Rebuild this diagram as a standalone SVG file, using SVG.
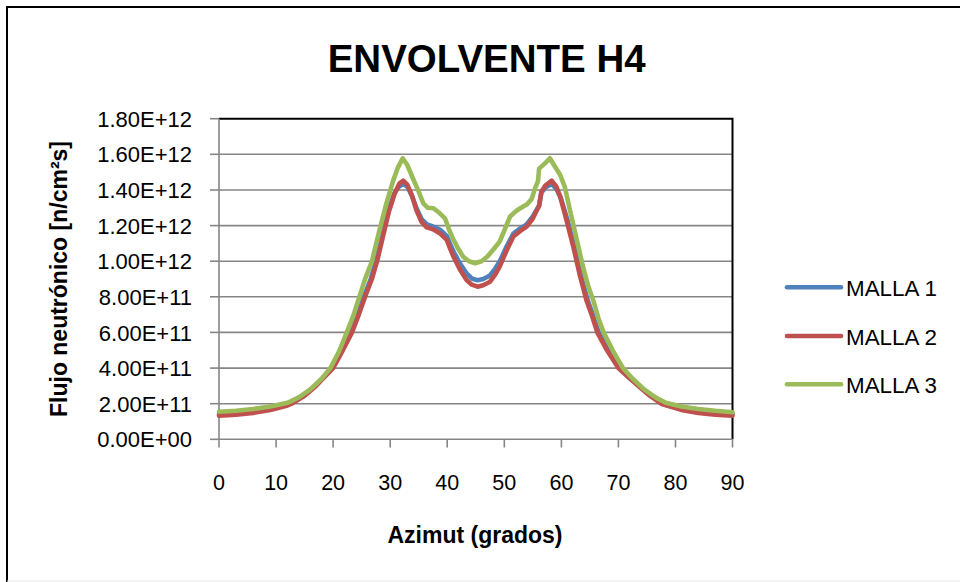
<svg xmlns="http://www.w3.org/2000/svg" width="960" height="582" viewBox="0 0 960 582">
<style>
.grid{stroke:#868686;stroke-width:1.6;fill:none}
.frame{stroke:#000;stroke-width:2;fill:none}
.tick{stroke:#868686;stroke-width:1.6}
.ylab{font-family:"Liberation Sans",Arial,sans-serif;font-size:22px;fill:#000;text-anchor:end}
.xlab{font-family:"Liberation Sans",Arial,sans-serif;font-size:21.5px;fill:#000;text-anchor:middle}
.ttl{font-family:"Liberation Sans",Arial,sans-serif;font-weight:bold;fill:#000;text-anchor:middle}
.leg{font-family:"Liberation Sans",Arial,sans-serif;font-size:22.4px;fill:#000}
.s{fill:none;stroke-width:4.6;stroke-linejoin:round;stroke-linecap:round}
.m1{stroke:#4F81BD}.m2{stroke:#C0504D}.m3{stroke:#9BBB59}
</style>
<rect x="0" y="0" width="960" height="582" fill="#fff"/>
<g id="chart-border">
<path d="M7,582 V7 H960" fill="none" stroke="#000" stroke-width="2"/>
<line x1="7" y1="581" x2="960" y2="581" stroke="#e8e8e8" stroke-width="1"/>
</g>
<text id="title" class="ttl" x="486.7" y="71.7" font-size="38.5">ENVOLVENTE H4</text>
<g id="gridlines">
<line class="grid" x1="219" y1="403.7" x2="732.5" y2="403.7"/>
<line class="grid" x1="219" y1="368.1" x2="732.5" y2="368.1"/>
<line class="grid" x1="219" y1="332.4" x2="732.5" y2="332.4"/>
<line class="grid" x1="219" y1="296.8" x2="732.5" y2="296.8"/>
<line class="grid" x1="219" y1="261.2" x2="732.5" y2="261.2"/>
<line class="grid" x1="219" y1="225.6" x2="732.5" y2="225.6"/>
<line class="grid" x1="219" y1="190.0" x2="732.5" y2="190.0"/>
<line class="grid" x1="219" y1="154.3" x2="732.5" y2="154.3"/>
</g>
<g id="plot-frame">
<path class="frame" d="M219,118.7 H732.5 V439.3"/>
<line class="grid" x1="219" y1="439.3" x2="732.5" y2="439.3"/>
<line class="grid" x1="219" y1="118.7" x2="219" y2="439.3"/>
</g>
<g id="y-axis">
<line class="tick" x1="210" y1="118.7" x2="219" y2="118.7"/>
<line class="tick" x1="210" y1="154.3" x2="219" y2="154.3"/>
<line class="tick" x1="210" y1="190.0" x2="219" y2="190.0"/>
<line class="tick" x1="210" y1="225.6" x2="219" y2="225.6"/>
<line class="tick" x1="210" y1="261.2" x2="219" y2="261.2"/>
<line class="tick" x1="210" y1="296.8" x2="219" y2="296.8"/>
<line class="tick" x1="210" y1="332.4" x2="219" y2="332.4"/>
<line class="tick" x1="210" y1="368.1" x2="219" y2="368.1"/>
<line class="tick" x1="210" y1="403.7" x2="219" y2="403.7"/>
<line class="tick" x1="210" y1="439.3" x2="219" y2="439.3"/>
<text class="ylab" x="192" y="126.8">1.80E+12</text>
<text class="ylab" x="192" y="162.4">1.60E+12</text>
<text class="ylab" x="192" y="198.1">1.40E+12</text>
<text class="ylab" x="192" y="233.7">1.20E+12</text>
<text class="ylab" x="192" y="269.3">1.00E+12</text>
<text class="ylab" x="192" y="304.9">8.00E+11</text>
<text class="ylab" x="192" y="340.5">6.00E+11</text>
<text class="ylab" x="192" y="376.2">4.00E+11</text>
<text class="ylab" x="192" y="411.8">2.00E+11</text>
<text class="ylab" x="192" y="447.4">0.00E+00</text>
<text class="ttl" font-size="23" transform="translate(67,279) rotate(-90)">Flujo neutrónico [n/cm²s]</text>
</g>
<g id="x-axis">
<line class="tick" x1="219" y1="439.3" x2="219" y2="447.5"/>
<line class="tick" x1="276.1" y1="439.3" x2="276.1" y2="447.5"/>
<line class="tick" x1="333.1" y1="439.3" x2="333.1" y2="447.5"/>
<line class="tick" x1="390.2" y1="439.3" x2="390.2" y2="447.5"/>
<line class="tick" x1="447.2" y1="439.3" x2="447.2" y2="447.5"/>
<line class="tick" x1="504.3" y1="439.3" x2="504.3" y2="447.5"/>
<line class="tick" x1="561.4" y1="439.3" x2="561.4" y2="447.5"/>
<line class="tick" x1="618.4" y1="439.3" x2="618.4" y2="447.5"/>
<line class="tick" x1="675.5" y1="439.3" x2="675.5" y2="447.5"/>
<line class="tick" x1="732.5" y1="439.3" x2="732.5" y2="447.5"/>
<text class="xlab" x="219" y="490">0</text>
<text class="xlab" x="276.1" y="490">10</text>
<text class="xlab" x="333.1" y="490">20</text>
<text class="xlab" x="390.2" y="490">30</text>
<text class="xlab" x="447.2" y="490">40</text>
<text class="xlab" x="504.3" y="490">50</text>
<text class="xlab" x="561.4" y="490">60</text>
<text class="xlab" x="618.4" y="490">70</text>
<text class="xlab" x="675.5" y="490">80</text>
<text class="xlab" x="732.5" y="490">90</text>
<text class="ttl" font-size="23" x="475" y="543">Azimut (grados)</text>
</g>
<g id="series">
<polyline id="malla1" class="s m1" points="219.0,413.8 236.1,413.0 253.2,411.2 270.4,408.3 287.5,404.0 291.5,402.2 303.6,395.7 315.0,385.9 323.6,377.0 332.1,368.1 341.6,350.3 350.8,332.4 357.6,314.6 363.9,296.8 370.7,279.0 376.0,261.2 381.3,239.8 388.3,211.3 394.2,193.5 399.0,186.5 403.6,184.0 407.6,187.0 412.0,196.0 416.6,208.5 421.8,219.5 426.9,224.5 433.0,226.5 439.8,229.5 446.7,236.0 450.3,244.5 453.8,252.0 460.0,263.5 466.6,273.5 471.8,278.5 477.5,280.3 483.2,279.0 490.0,275.5 495.2,268.6 499.7,261.5 506.6,246.5 513.4,233.6 520.3,228.4 526.6,224.4 532.8,216.5 536.3,210.3 539.1,205.5 541.4,192.5 545.4,187.5 551.7,184.0 556.2,188.5 560.7,197.7 567.5,220.1 574.3,246.8 581.2,276.7 587.7,300.4 592.8,314.6 598.7,332.4 608.5,350.3 620.0,368.1 629.6,377.0 639.8,385.9 651.0,395.7 662.2,403.7 667.9,405.5 681.9,408.5 698.6,411.2 715.4,413.0 732.5,413.8"/>
<polyline id="malla2" class="s m2" points="219.0,415.6 236.1,414.7 253.2,412.9 270.4,409.9 287.5,405.5 291.5,403.7 304.6,395.7 316.0,385.9 324.6,377.0 333.1,368.1 342.8,350.3 352.0,332.4 358.8,314.6 365.1,296.8 371.9,279.0 377.1,261.2 382.2,239.8 389.0,211.3 394.7,193.5 399.3,183.7 403.3,180.7 407.3,184.6 411.9,195.3 416.4,210.1 421.6,222.0 426.7,227.4 433.0,229.2 439.8,233.2 446.7,239.8 450.1,248.7 453.5,256.7 459.8,269.2 466.6,280.1 471.8,284.7 477.5,286.7 483.2,285.2 490.0,281.7 495.2,274.6 499.7,266.7 506.6,250.5 513.4,236.6 520.3,230.9 526.6,226.6 532.8,218.5 536.3,211.3 539.1,206.0 541.4,191.7 545.4,185.5 551.7,180.7 556.2,186.4 560.2,196.7 566.5,220.1 573.3,246.8 580.2,276.7 586.5,300.4 591.6,314.6 597.3,332.4 607.0,350.3 618.4,368.1 628.1,377.0 638.4,385.9 649.8,395.7 661.2,403.7 666.9,405.5 681.2,409.9 698.3,412.9 715.4,414.7 732.5,415.6"/>
<polyline id="malla3" class="s m3" points="219.0,411.7 236.1,410.8 253.2,409.0 270.4,406.4 287.5,402.8 298.9,397.4 310.3,389.4 321.7,378.7 330.3,368.1 338.8,352.0 346.8,332.4 353.7,314.6 359.4,296.8 365.1,279.0 371.9,261.2 378.8,232.7 386.2,204.2 393.0,181.1 398.2,166.8 402.7,158.3 407.3,165.0 413.6,180.0 418.7,191.7 423.3,203.3 427.8,207.8 433.5,208.3 439.8,213.3 445.0,218.3 448.9,229.2 453.5,239.8 458.7,249.6 463.2,256.7 468.9,261.2 475.2,263.3 481.5,261.2 487.2,256.7 494.0,248.7 499.7,241.6 504.9,229.2 510.0,216.7 515.7,211.3 520.3,208.3 527.1,204.2 531.7,198.9 535.1,188.2 538.0,181.1 539.1,168.6 544.2,164.1 549.9,158.3 555.1,166.8 560.2,175.0 564.8,186.8 569.9,210.1 576.8,239.8 583.0,266.7 588.2,286.1 593.3,300.4 598.4,318.2 603.6,332.4 612.7,350.3 623.0,368.1 632.7,378.7 644.1,389.4 655.5,397.4 665.8,402.8 681.2,406.4 698.3,409.0 715.4,410.8 732.5,412.2"/>
</g>
<g id="legend">
<g id="legend-malla1"><line class="s m1" x1="787" y1="287.3" x2="841" y2="287.3"/><text class="leg" x="846" y="296">MALLA 1</text></g>
<g id="legend-malla2"><line class="s m2" x1="787" y1="336" x2="841" y2="336"/><text class="leg" x="846" y="344.5">MALLA 2</text></g>
<g id="legend-malla3"><line class="s m3" x1="787" y1="384.3" x2="841" y2="384.3"/><text class="leg" x="846" y="392.5">MALLA 3</text></g>
</g>
</svg>
